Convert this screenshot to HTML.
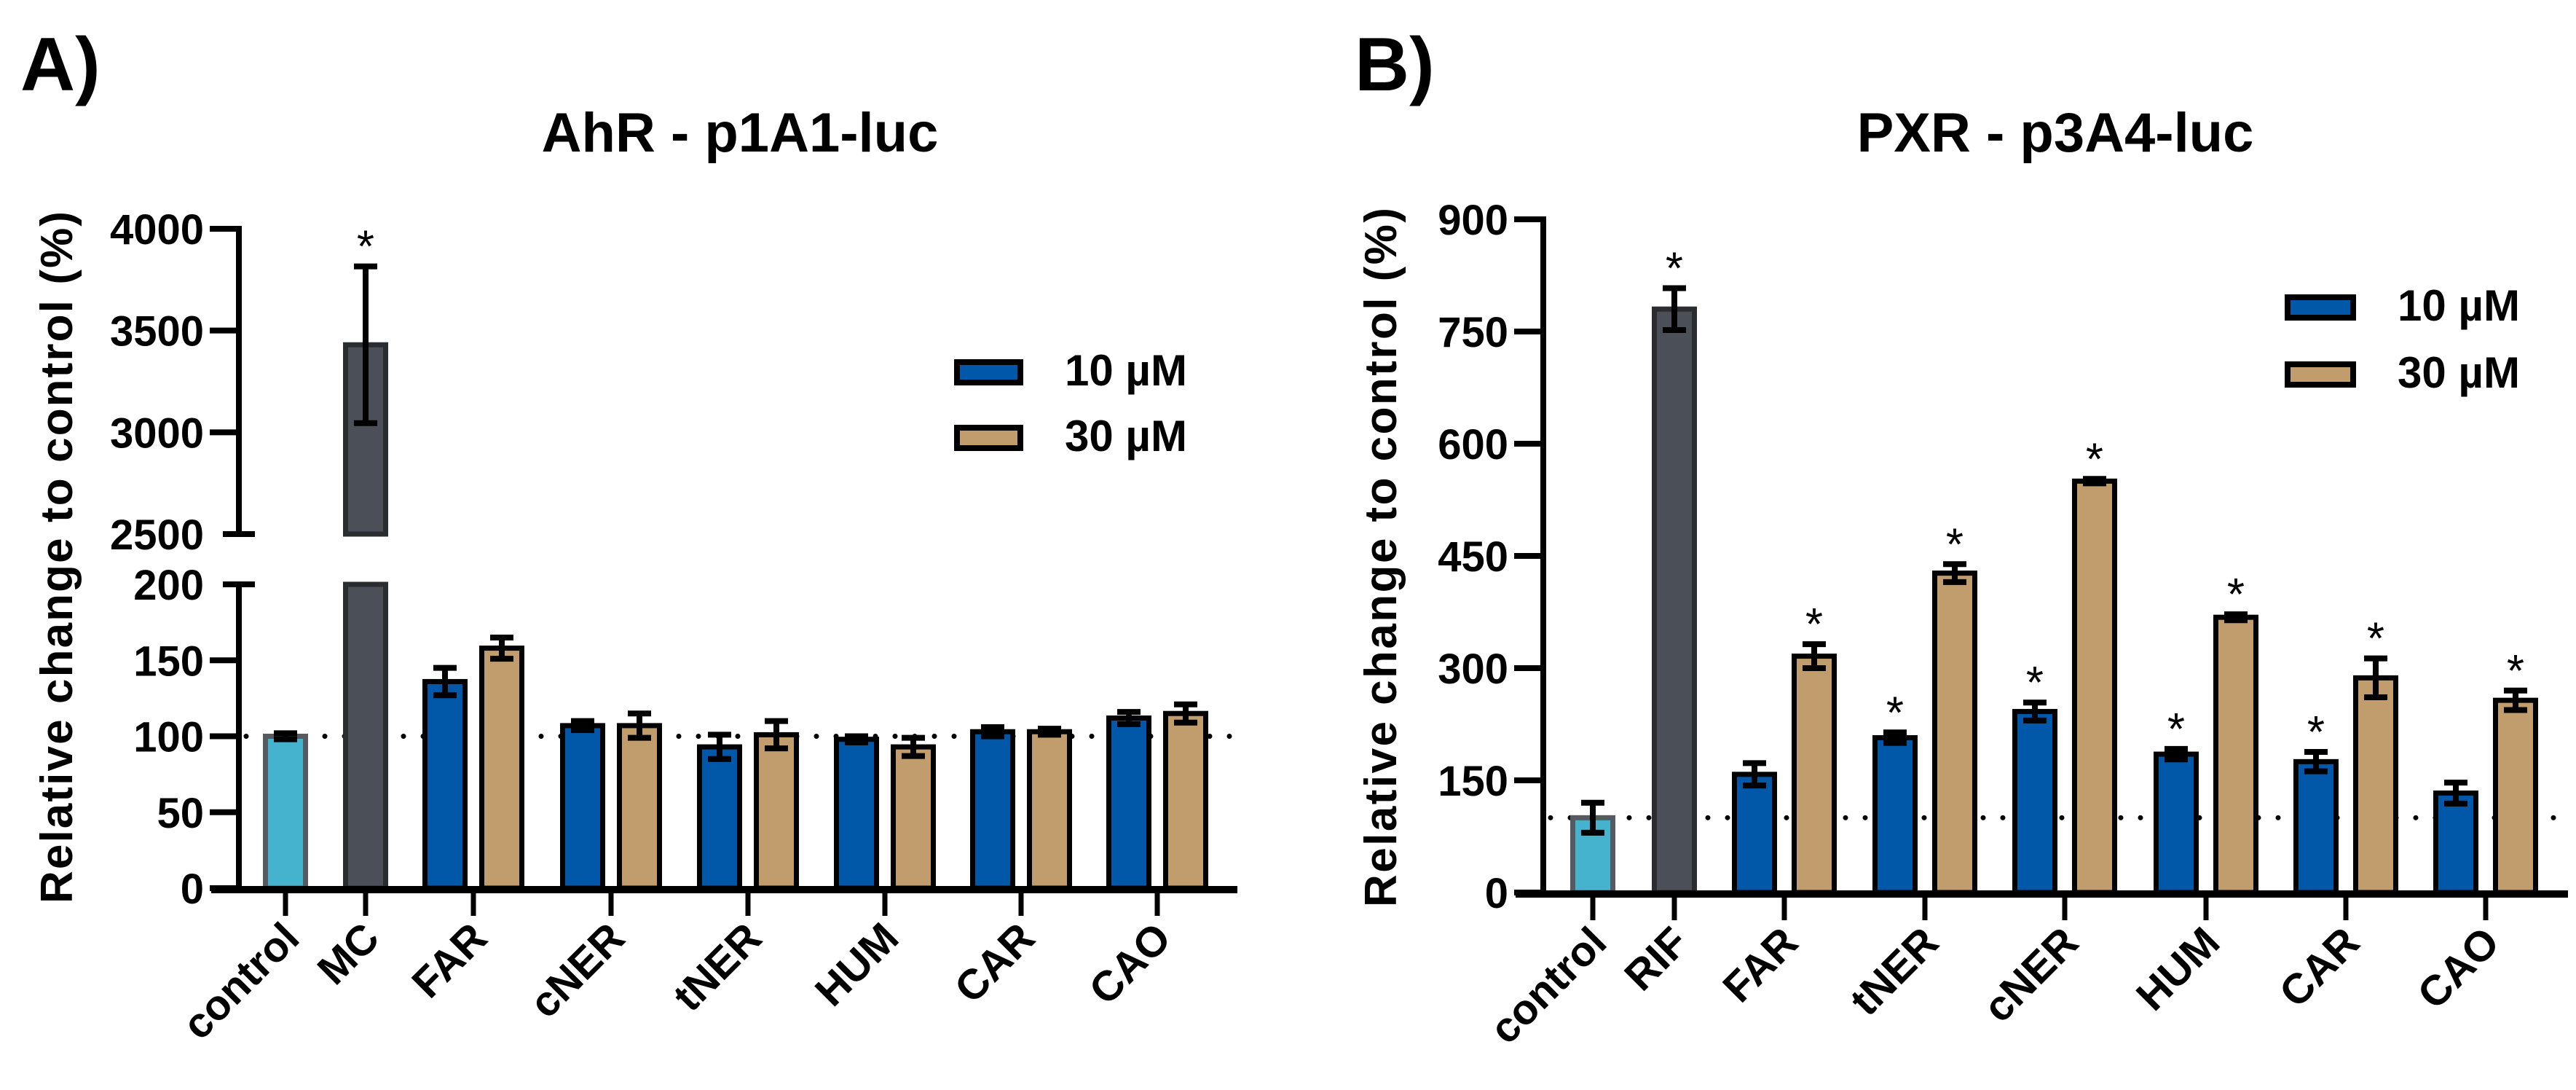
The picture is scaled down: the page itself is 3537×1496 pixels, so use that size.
<!DOCTYPE html>
<html><head><meta charset="utf-8"><style>
html,body{margin:0;padding:0;background:#fff;}
svg{display:block;font-family:"Liberation Sans",Arial,sans-serif;font-weight:bold;}
</style></head><body>
<svg id="fig" width="3537" height="1496" viewBox="0 0 3537 1496" xmlns="http://www.w3.org/2000/svg">
<text x="28" y="124" font-size="104">A)</text>
<text x="1016" y="208" font-size="76" text-anchor="middle">AhR - p1A1-luc</text>
<text x="1860" y="124" font-size="104">B)</text>
<text x="2822" y="208" font-size="76" text-anchor="middle">PXR - p3A4-luc</text>
<text transform="translate(99,765) rotate(-90)" font-size="62" text-anchor="middle" textLength="950" lengthAdjust="spacing">Relative change to control (%)</text>
<text transform="translate(1917,765) rotate(-90)" font-size="62" text-anchor="middle" textLength="960" lengthAdjust="spacing">Relative change to control (%)</text>
<g id="gA"></g>
<g id="gB"></g>
</svg>
<script>
// Panel A data
const catsA = ["control","MC","FAR","cNER","tNER","HUM","CAR","CAO"];
const refA = [100, 3430];
const refErrA = [2, 385];
const a10 = [136, 107, 93, 98, 103, 112];
const a10err = [9, 3, 8, 2, 3, 4];
const a30 = [158, 107, 101, 93, 103, 115];
const a30err = [7, 8, 9, 6, 2, 6];
const ticksLowA = [0, 50, 100, 150, 200];
const ticksHighA = [2500, 3000, 3500, 4000];
const starA10 = [false,false,false,false,false,false];
const starA30 = [false,false,false,false,false,false];
const starRefA = [false,true];
// Panel B data
const catsB = ["control","RIF","FAR","tNER","cNER","HUM","CAR","CAO"];
const refB = [100, 780];
const refErrB = [20, 28];
const b10 = [158, 207, 242, 185, 175, 133];
const b10err = [15, 7, 12, 7, 13, 14];
const b30 = [316, 427, 550, 368, 287, 257];
const b30err = [16, 12, 3, 4, 26, 13];
const ticksB = [0, 150, 300, 450, 600, 750, 900];
const starB10 = [false,true,true,true,true,false];
const starB30 = [true,true,true,true,true,true];
const starRefB = [false,true];

const NS = "http://www.w3.org/2000/svg";
const COL = {ctrl:"#45B3CD", ref:"#4B4F57", c10:"#0157A8", c30:"#C19D6E"};
function mk(parent, tag, attrs, txt){
  const e = document.createElementNS(NS, tag);
  for (const k in attrs) e.setAttribute(k, attrs[k]);
  if (txt !== undefined) e.textContent = txt;
  parent.appendChild(e); return e;
}
function drawPanel(g, o){
  const {axX, zeroY, xStart, xEnd, cats, ticksX, yMap, refs, refErr, s10, e10, s30, e30, st10, st30, stRef, off, bw, leg} = o;
  // dotted line at 100
  let l = mk(g,"line",{x1:axX+10,x2:xEnd,y1:yMap(100),y2:yMap(100),stroke:"#000","stroke-width":7,"stroke-dasharray":"0 27","stroke-linecap":"round"});
  
  
  function bar(cx, v, err, fill, stroke, name, star){
    const w = bw;
    if (o.broken && v > 200){
      let r1 = mk(g,"rect",{x:cx-w/2+3.5,y:yMap(v),width:w-7,height:o.upBot-yMap(v),fill:fill,stroke:stroke,"stroke-width":7});
      
      
      let r2 = mk(g,"rect",{x:cx-w/2+3.5,y:o.lowTop,width:w-7,height:zeroY-o.lowTop,fill:fill,stroke:stroke,"stroke-width":7});
      
      
    } else {
      let r = mk(g,"rect",{x:cx-w/2+3.5,y:yMap(v),width:w-7,height:zeroY-yMap(v),fill:fill,stroke:stroke,"stroke-width":7});
      
      
    }
    const yt = yMap(v+err), yb = yMap(v-err);
    let eb = mk(g,"path",{d:`M${cx},${yt}V${yb}M${cx-16},${yt}H${cx+16}M${cx-16},${yb}H${cx+16}`,stroke:"#000","stroke-width":8,fill:"none"});
    
    
    if (star){
      let s = mk(g,"text",{x:cx,y:yt-6,"font-size":62,"text-anchor":"middle","font-weight":"normal"},"*");
      
      
    }
  }
  bar(ticksX[0], refs[0], refErr[0], COL.ctrl, "#555a60", "bar-control", stRef[0]);
  bar(ticksX[1], refs[1], refErr[1], COL.ref, "#2a2c30", "bar-"+cats[1], stRef[1]);
  for (let i=0;i<s10.length;i++){
    bar(ticksX[i+2]-off, s10[i], e10[i], COL.c10, "#000", "bar-"+cats[i+2]+"-10uM", st10[i]);
    bar(ticksX[i+2]+off, s30[i], e30[i], COL.c30, "#000", "bar-"+cats[i+2]+"-30uM", st30[i]);
  }
  // axes
  if (o.broken){
    let a1 = mk(g,"line",{x1:axX,x2:axX,y1:yMap(4000)-4,y2:o.upBot,stroke:"#000","stroke-width":8});
    
    
    let a2 = mk(g,"line",{x1:axX,x2:axX,y1:o.lowTop,y2:zeroY,stroke:"#000","stroke-width":8});
    
    
  } else {
    let a = mk(g,"line",{x1:axX,x2:axX,y1:yMap(o.yMax)-4,y2:zeroY,stroke:"#000","stroke-width":8});
    
    
  }
  let xa = mk(g,"line",{x1:xStart,x2:xEnd,y1:zeroY+2,y2:zeroY+2,stroke:"#000","stroke-width":10});
  
  
  o.yTicks.forEach(t=>{
    const y = yMap(t);
    const isBreak = o.broken && (t===2500 || t===200);
    let tk = mk(g,"line",{x1:isBreak?axX-22:axX-40,x2:isBreak?axX+22:axX,y1:y,y2:y,stroke:"#000","stroke-width":8});
    
    
    let tl = mk(g,"text",{x:axX-48,y:y+21,"font-size":58,"text-anchor":"end"},String(t));
    
    
  });
  cats.forEach((c,i)=>{
    const x = ticksX[i];
    let tk = mk(g,"line",{x1:x,x2:x,y1:zeroY,y2:zeroY+38,stroke:"#000","stroke-width":7});
    
    
    let tl = mk(g,"text",{transform:`translate(${x+22},${zeroY+72}) rotate(-45)`,"font-size":58,"text-anchor":"end"},c);
    
    
  });
  // legend
  const items = [["10 µM",COL.c10,leg.y1],["30 µM",COL.c30,leg.y2]];
  items.forEach((it,k)=>{
    let sw = mk(g,"rect",{x:leg.sx+4,y:it[2]+4,width:leg.sw-8,height:28,fill:it[1],stroke:"#000","stroke-width":8});
    
    
    let lt = mk(g,"text",{x:leg.tx,y:it[2]+36,"font-size":60},it[0]);
    
    
  });
}
// Panel A scales
const A_zero=1219, A_lowTop=802, A_upBot=733, A_upTop=314;
function yA(v){
  if (v<=200) return A_zero - v*(A_zero-A_lowTop)/200;
  return A_upBot - (v-2500)*(A_upBot-A_upTop)/1500;
}
drawPanel(document.getElementById("gA"),{
  axX:328, zeroY:A_zero, xStart:290, xEnd:1699, cats:catsA,
  ticksX:[392,502,650,839,1027,1215,1402,1589], yMap:yA, broken:true, lowTop:A_lowTop, upBot:A_upBot,
  yTicks:ticksLowA.concat(ticksHighA), refs:refA, refErr:refErrA, s10:a10, e10:a10err, s30:a30, e30:a30err,
  st10:starA10, st30:starA30, stRef:starRefA, off:39, bw:62,
  leg:{sx:1310, sw:95, tx:1462, y1:493, y2:583}
});
const B_zero=1225, B_top=301;
function yB(v){ return B_zero - v*(B_zero-B_top)/900; }
drawPanel(document.getElementById("gB"),{
  axX:2119, zeroY:B_zero, xStart:2081, xEnd:3526, cats:catsB,
  ticksX:[2187,2299,2450,2643,2835,3029,3221,3413], yMap:yB, broken:false, yMax:900,
  yTicks:ticksB, refs:refB, refErr:refErrB, s10:b10, e10:b10err, s30:b30, e30:b30err,
  st10:starB10, st30:starB30, stRef:starRefB, off:41, bw:62,
  leg:{sx:3137, sw:98, tx:3292, y1:404, y2:496}
});
</script>
</body></html>
